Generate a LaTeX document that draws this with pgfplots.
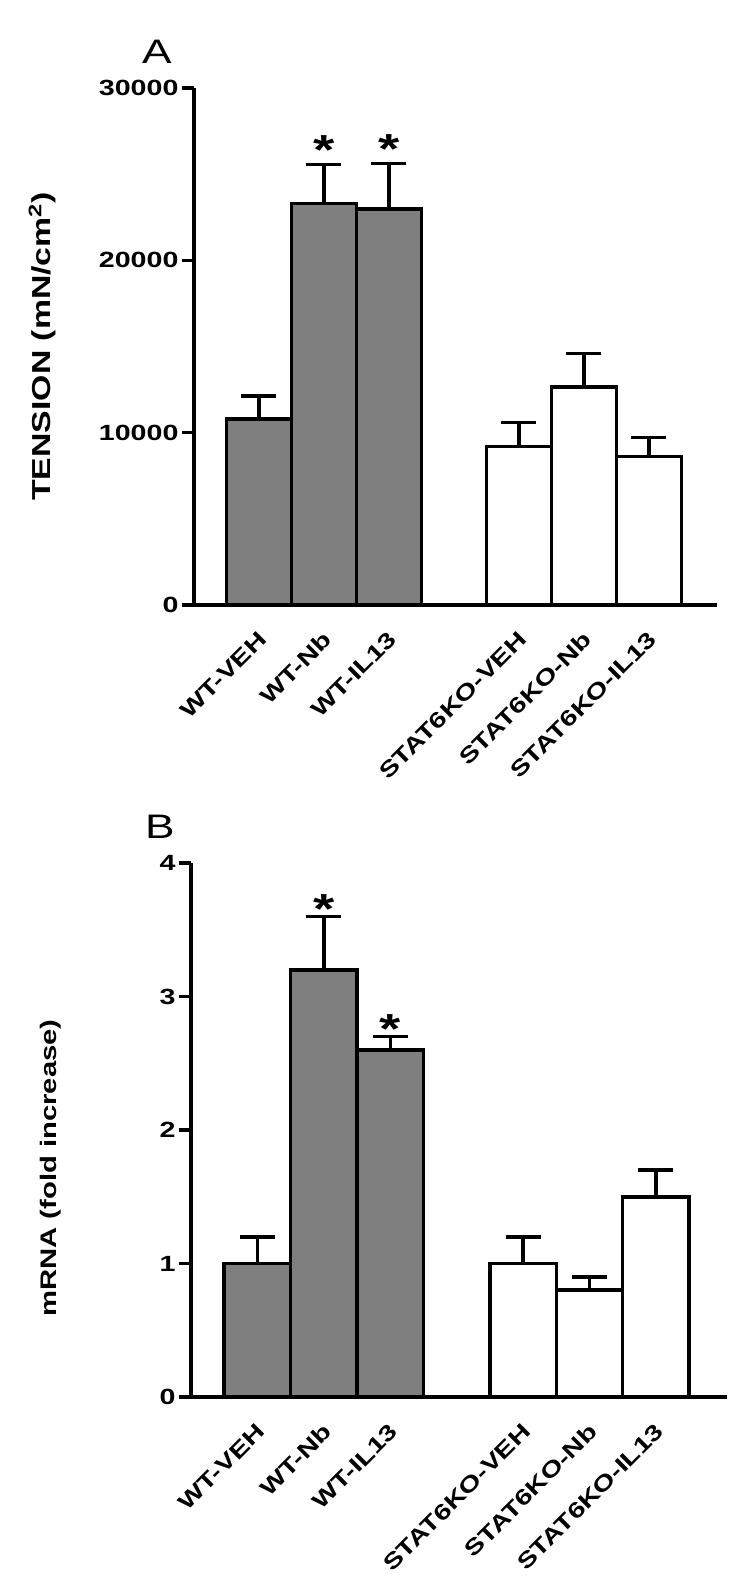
\documentclass[border=0pt]{standalone}
\usepackage{fontspec}
\setmainfont{Liberation Sans}[FakeStretch=1.3]
\usepackage{pgfplots}
\pgfplotsset{compat=1.18}
\definecolor{bargray}{HTML}{7F7F7F}

\tikzset{star/.style={anchor=base, font=\fontsize{42}{44}\selectfont\bfseries}}

\pgfplotsset{
  panel/.style={
    scale only axis,
    axis lines*=left,
    axis line style={-, line width=3.5pt},
    clip=false,
    ybar, bar width=1, bar shift=0pt,
    xmin=0, ymin=0,
    xtick={1,2,3,5,6,7},
    xticklabels={WT-VEH, WT-Nb, WT-IL13, STAT6KO-VEH, STAT6KO-Nb, STAT6KO-IL13},
    x tick style={draw=none},
    x tick label style={xshift=-2pt, yshift=-13pt, rotate=45, anchor=north east, inner sep=0pt,
      font=\fontsize{22}{24}\selectfont\bfseries},
    y tick style={line width=3.5pt, black},
    major tick length=12pt,
    tick align=outside,
    y tick label style={font=\fontsize{22}{24}\selectfont\bfseries},
    /pgf/number format/assume math mode=true,
    /pgf/number format/1000 sep={},
    scaled y ticks=false,
    error bars/y dir=plus,
    error bars/y explicit,
    error bars/error bar style={line width=3.5pt, black},
    error bars/error mark options={rotate=90, line width=3.5pt, mark size=17.5pt, black},
  },
  wt/.style={fill=bargray, draw=black, line width=3.5pt},
  ko/.style={fill=white, draw=black, line width=3.5pt},
}

\pgfplotstableread{
x  y      e
1  10780  1350
2  23300  2270
3  22970  2660
}\tensionwt
\pgfplotstableread{
x  y      e
5  9210   1390
6  12640  1940
7  8620   1090
}\tensionko
\pgfplotstableread{
x  y    e
1  1.0  0.2
2  3.2  0.4
3  2.6  0.1
}\mrnawt
\pgfplotstableread{
x  y    e
5  1.0  0.2
6  0.8  0.1
7  1.5  0.2
}\mrnako

\begin{document}
\begin{tikzpicture}
\path[use as bounding box] (0,0) rectangle (750pt,-1590pt);

% panel A
\begin{axis}[panel,
  at={(194pt,-605pt)}, anchor=south west,
  width=523pt, height=517pt,
  xmax=8.05, ymax=30000,
  ytick={0,10000,20000,30000},
  ylabel={TENSION (mN/cm\textsuperscript{2})},
  ylabel style={at={(axis description cs:-0.29,0.5)}, anchor=center,
    font=\fontsize{26}{28}\selectfont\bfseries},
]
\addplot[wt] table[x=x, y=y, y error=e] {\tensionwt};
\addplot[ko] table[x=x, y=y, y error=e] {\tensionko};
\node[star] at (axis cs:2,25590) {*};
\node[star] at (axis cs:3,25640) {*};
\node[font=\fontsize{34}{36}\selectfont] at (axis description cs:-0.071,1.07) {A};
\end{axis}

% panel B
\begin{axis}[panel,
  at={(191pt,-1397pt)}, anchor=south west,
  width=536pt, height=534pt,
  xmax=8.07, ymax=4,
  ytick={0,1,2,3,4},
  ylabel={mRNA (fold increase)},
  ylabel style={at={(axis description cs:-0.261,0.429)}, anchor=center,
    font=\fontsize{22.5}{24}\selectfont\bfseries},
]
\addplot[wt] table[x=x, y=y, y error=e] {\mrnawt};
\addplot[ko] table[x=x, y=y, y error=e] {\mrnako};
\node[star] at (axis cs:2,3.55) {*};
\node[star] at (axis cs:3,2.65) {*};
\node[font=\fontsize{34}{36}\selectfont] at (axis description cs:-0.058,1.067) {B};
\end{axis}
\end{tikzpicture}
\end{document}
